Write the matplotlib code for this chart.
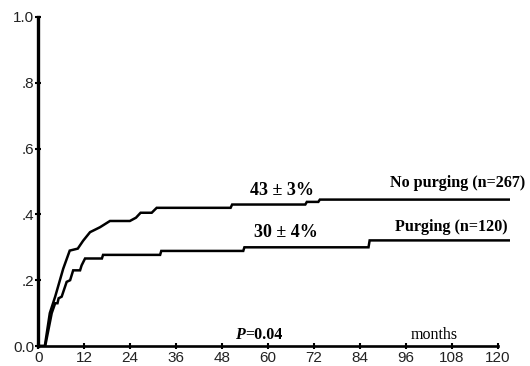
import matplotlib
matplotlib.use("Agg")
import matplotlib.pyplot as plt

# No purging (n=267): polyline vertices
t_nopurge = [0, 1.7, 3.0, 4.4, 6.5, 8.2, 10.3, 11.7, 13.5, 16.1, 18.7, 23.9, 25.5,
             26.7, 29.6, 30.9, 50.2, 50.6, 69.7, 70.1, 73.1, 73.5, 123]
v_nopurge = [0, 0, 0.10, 0.15, 0.235, 0.29, 0.296, 0.32, 0.346, 0.361, 0.38, 0.38, 0.39,
             0.405, 0.405, 0.42, 0.42, 0.43, 0.43, 0.438, 0.438, 0.445, 0.445]

# Purging (n=120)
t_purge = [0, 1.8, 3.5, 4.4, 5.0, 5.3, 6.1, 7.4, 8.3, 9.1, 10.9, 11.3, 12.2, 16.6,
           16.9, 31.8, 32.1, 53.5, 53.8, 86.2, 86.5, 123]
v_purge = [0, 0, 0.10, 0.13, 0.13, 0.145, 0.15, 0.195, 0.20, 0.23, 0.23, 0.245, 0.266, 0.266,
           0.277, 0.277, 0.289, 0.289, 0.30, 0.30, 0.321, 0.321]

xticks = list(range(0, 121, 12))
yticks = [0.0, 0.2, 0.4, 0.6, 0.8, 1.0]
ytick_labels = ["0.0", ".2", ".4", ".6", ".8", "1.0"]

serif = "Liberation Serif"

fig = plt.figure(figsize=(5.30, 3.66), dpi=100)
ax = fig.add_axes([0.0723, 0.0546, 0.8904, 0.899])

ax.plot(t_nopurge, v_nopurge, color="black", lw=1.8, solid_joinstyle="miter")
ax.plot(t_purge, v_purge, color="black", lw=1.8, solid_joinstyle="miter")

ax.set_xlim(0, 123.2)
ax.set_ylim(0, 1.0)
ax.spines["top"].set_visible(False)
ax.spines["right"].set_visible(False)
ax.spines["left"].set_linewidth(2.4)
ax.spines["bottom"].set_linewidth(1.9)
ax.spines["bottom"].set_bounds(0, 120)

ax.set_xticks(xticks)
ax.set_xticklabels([str(x) for x in xticks])
ax.set_yticks(yticks)
ax.set_yticklabels(ytick_labels)
ax.tick_params(axis="both", direction="inout", length=4, width=1.5,
               labelsize=11, labelcolor="#222222")
ax.tick_params(axis="y", pad=1)
ax.tick_params(axis="x", pad=1.5)
for lab in ax.get_xticklabels() + ax.get_yticklabels():
    lab.set_family("Liberation Sans")

ax.text(63.5, 0.474, "43 \u00b1 3%", family=serif, fontweight="bold",
        fontsize=13, ha="center", va="center")
ax.text(91.8, 0.495, "No purging (n=267)", family=serif, fontweight="bold",
        fontsize=11.6, ha="left", va="center", clip_on=False)
ax.text(64.7, 0.344, "30 \u00b1 4%", family=serif, fontweight="bold",
        fontsize=13, ha="center", va="center")
ax.text(93.1, 0.363, "Purging (n=120)", family=serif, fontweight="bold",
        fontsize=11.6, ha="left", va="center", clip_on=False)

ax.text(54.0, 0.033, "P", family=serif, fontweight="bold", style="italic",
        fontsize=11.5, ha="right", va="center")
ax.text(54.0, 0.033, "=0.04", family=serif, fontweight="bold",
        fontsize=11.5, ha="left", va="center")
ax.text(109.6, 0.033, "months", family=serif, fontsize=11.5, ha="right", va="center")

fig.savefig("out.png", dpi=100)
